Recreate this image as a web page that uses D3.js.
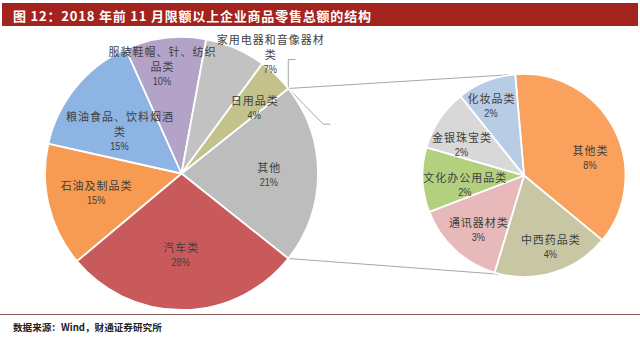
<!DOCTYPE html>
<html>
<head>
<meta charset="utf-8">
<script src="https://cdn.jsdelivr.net/npm/d3@7/dist/d3.min.js"></script>
<style>
  html, body { margin: 0; padding: 0; background: #fff; }
  svg { display: block; }
</style>
</head>
<body>
<svg id="chart" width="640" height="338"></svg>
<script>
// ---- data ----
const title = "图 12：2018 年前 11 月限额以上企业商品零售总额的结构";
const source = "数据来源：Wind，财通证券研究所";
const mainCats = ["其他", "汽车类", "石油及制品类", "粮油食品、饮料烟酒类", "服装鞋帽、针、纺织品类", "家用电器和音像器材类", "日用品类"];
const mainVals = [21.4, 28.2, 14.6, 14.8, 9.6, 7.2, 4.2];
const subCats = ["其他类", "中西药品类", "通讯器材类", "文化办公用品类", "金银珠宝类", "化妆品类"];
const subVals = [8.0, 4.0, 3.1, 2.2, 2.1, 2.0];

// ---- styles / layout ----
const mainColors = ["#bdbdbd", "#c85a5c", "#f89b52", "#8db4e3", "#b4a3c8", "#c2c2c2", "#c3c28d"];
const subColors = ["#f9a15d", "#c9c6a3", "#e7b9ba", "#b3d07f", "#d8d8d8", "#b9cce5"];
// label placement: angle offset from slice mid (deg), radius fraction
const mainLabelLayout = [[0.6, 0.64], [1.3, 0.59], [1.4, 0.64], [-5, 0.55], [-3.5, 0.80], [13.2, 1.09], [3.8, 0.72]];
const subLabelLayout = [[12.4, 0.674], [-3.5, 0.75], [-3, 0.70], [-6.4, 0.59], [-7, 0.69], [-3.5, 0.76]];

const W = 640, H = 338;
const M = { cx: 181.5, cy: 173.5, r: 136.5 };
const S = { cx: 524, cy: 175.5, r: 101.5, start: -5, bottomAngle: 193 };
const lineH = 15;
const deg = Math.PI / 180;

const svg = d3.select("#chart");

// title bar
svg.append("rect").attr("x", 2).attr("y", 3).attr("width", 636).attr("height", 23).attr("fill", "#a3231e");
svg.append("text").attr("x", 13).attr("y", 15).attr("dominant-baseline", "central")
  .attr("fill", "#fff").attr("font-family", "'Noto Sans CJK SC', sans-serif").attr("font-weight", "bold")
  .attr("font-size", 13).attr("letter-spacing", 0.8).text(title);

// bottom rule + source
svg.append("line").attr("x1", 0).attr("x2", 640).attr("y1", 314.5).attr("y2", 314.5)
  .attr("stroke", "#8a5757").attr("stroke-width", 1.2);
svg.append("text").attr("x", 13).attr("y", 327).attr("dominant-baseline", "central")
  .attr("fill", "#222").attr("font-family", "'Noto Sans CJK SC', sans-serif").attr("font-weight", "bold")
  .attr("font-size", 9.6).text(source);

const total = d3.sum(mainVals);
const otherShare = mainVals[0] / total * 2 * Math.PI;
const mainStart = Math.PI / 2 - otherShare / 2;

const mainPie = d3.pie().sort(null).value(d => d).startAngle(mainStart).endAngle(mainStart + 2 * Math.PI);
const subPie = d3.pie().sort(null).value(d => d).startAngle(S.start * deg).endAngle(S.start * deg + 2 * Math.PI);
const mainArcs = mainPie(mainVals);
const subArcs = subPie(subVals);

const polar = (c, a, r) => [c.cx + r * Math.sin(a), c.cy - r * Math.cos(a)];

// connector lines
const topA = mainArcs[0].startAngle, botA = mainArcs[0].endAngle;
const p1 = polar(M, topA, M.r), p2 = polar(S, S.start * deg, S.r);
const p3 = polar(M, botA, M.r), p4 = polar(S, S.bottomAngle * deg, S.r);
const conn = svg.append("g").attr("stroke", "#a6a6a6").attr("stroke-width", 1).attr("fill", "none");
conn.append("line").attr("x1", p1[0]).attr("y1", p1[1]).attr("x2", p2[0]).attr("y2", p2[1]);
conn.append("line").attr("x1", p3[0]).attr("y1", p3[1]).attr("x2", p4[0]).attr("y2", p4[1]);
// leader bracket
conn.append("path").attr("d", `M${p1[0] + 7},${p1[1] - 29} H${p1[0]} V${p1[1]} L${p1[0] + 35},${p1[1] + 35.7} H${p1[0] + 42}`);

const arcMain = d3.arc().innerRadius(0).outerRadius(M.r);
const arcSub = d3.arc().innerRadius(0).outerRadius(S.r);

svg.append("g").attr("transform", `translate(${M.cx},${M.cy})`)
  .selectAll("path").data(mainArcs).join("path")
  .attr("d", arcMain).attr("fill", (d, i) => mainColors[i])
  .attr("stroke", "#fff").attr("stroke-width", 1.8).attr("stroke-linejoin", "round");

svg.append("g").attr("transform", `translate(${S.cx},${S.cy})`)
  .selectAll("path").data(subArcs).join("path")
  .attr("d", arcSub).attr("fill", (d, i) => subColors[i])
  .attr("stroke", "#fff").attr("stroke-width", 1.8).attr("stroke-linejoin", "round");

function wrap(name, n) {
  const out = [];
  for (let i = 0; i < name.length; i += n) out.push(name.slice(i, i + n));
  return out;
}

function drawLabels(arcs, cats, layout, c) {
  arcs.forEach((d, i) => {
    const mid = (d.startAngle + d.endAngle) / 2 + layout[i][0] * deg;
    const [x, y] = polar(c, mid, c.r * layout[i][1]);
    const lines = wrap(cats[i], 9);
    lines.push(Math.round(d.value / total * 100) + "%");
    const n = lines.length;
    lines.forEach((t, j) => {
      const isPct = j === n - 1;
      const el = svg.append("text")
        .attr("x", x + (isPct ? 0 : 0.5)).attr("y", y + (j - (n - 1) / 2) * lineH)
        .attr("text-anchor", "middle").attr("dominant-baseline", "central")
        .attr("fill", "#404040")
        .attr("font-family", isPct ? "'Liberation Sans', Arial, sans-serif" : "'Noto Sans CJK SC', sans-serif")
        .attr("font-size", isPct ? 11.5 : 11)
        .attr("letter-spacing", isPct ? 0 : 1)
        .text(t);
      if (isPct) {
        const w = el.node().getComputedTextLength();
        el.attr("textLength", w * 0.8).attr("lengthAdjust", "spacingAndGlyphs");
      }
    });
  });
}
drawLabels(mainArcs, mainCats, mainLabelLayout, M);
drawLabels(subArcs, subCats, subLabelLayout, S);
</script>
</body>
</html>
